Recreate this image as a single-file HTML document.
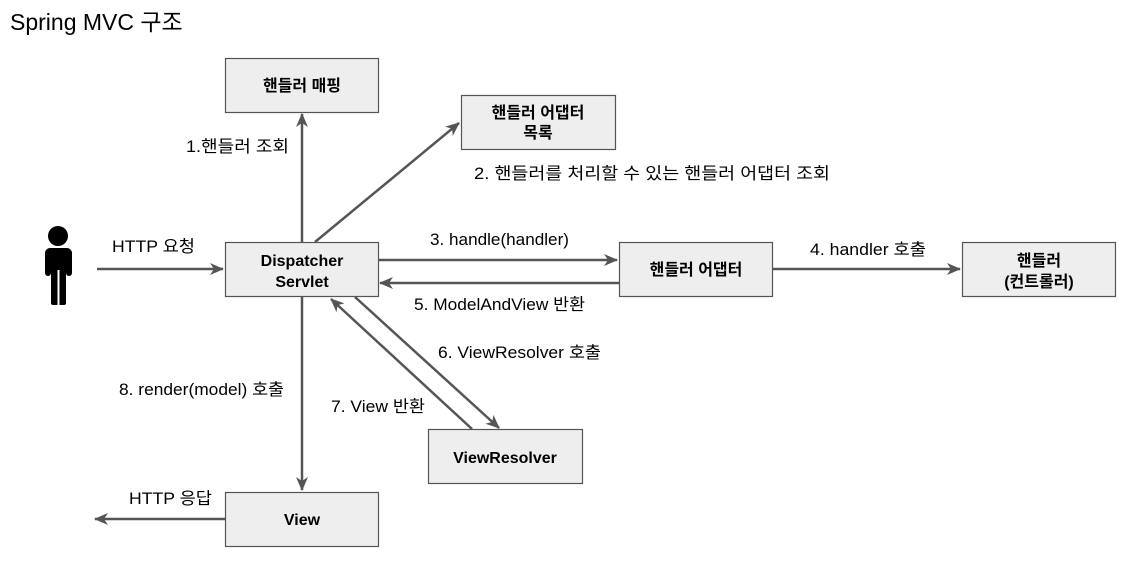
<!DOCTYPE html>
<html><head><meta charset="utf-8"><style>
body{margin:0;background:#fff;}
svg text{font-family:"Liberation Sans","Noto Sans CJK KR",sans-serif;}
</style></head><body>
<svg width="1127" height="560" viewBox="0 0 1127 560" xmlns="http://www.w3.org/2000/svg">
<defs><marker id="a" viewBox="0 0 14 12" refX="13" refY="6" markerWidth="14" markerHeight="12" markerUnits="userSpaceOnUse" orient="auto"><path d="M0,0 L14,6 L0,12 L4,6 Z" fill="#555"/></marker></defs>
<text x="10" y="30" font-size="23" fill="#000">Spring MVC 구조</text>
<g stroke="#555" stroke-width="2.5" fill="none" marker-end="url(#a)">
<line x1="302" y1="242" x2="302" y2="114"/>
<line x1="315" y1="242" x2="459" y2="123"/>
<line x1="97" y1="269" x2="223" y2="269"/>
<line x1="378" y1="260" x2="617" y2="260"/>
<line x1="619" y1="283" x2="380" y2="283"/>
<line x1="355" y1="297" x2="499" y2="428"/>
<line x1="472" y1="429" x2="331" y2="299"/>
<line x1="302" y1="296" x2="302" y2="490"/>
<line x1="225" y1="519" x2="95" y2="519"/>
<line x1="772" y1="269" x2="960" y2="269"/>
</g>
<g fill="#eeeeee" stroke="#555" stroke-width="1.2">
<rect x="225.5" y="58.5" width="153" height="54"/>
<rect x="461.5" y="95.5" width="154" height="54"/>
<rect x="225.5" y="242.5" width="153" height="54"/>
<rect x="619.5" y="242.5" width="153" height="54"/>
<rect x="962.5" y="242.5" width="153" height="54"/>
<rect x="428.5" y="429.5" width="154" height="54"/>
<rect x="225.5" y="492.5" width="153" height="54"/>
</g>
<g font-size="16" font-weight="bold" text-anchor="middle" fill="#000">
<text x="302" y="91">핸들러 매핑</text>
<text x="538" y="118">핸들러 어댑터</text><text x="538" y="138">목록</text>
<text x="302" y="266">Dispatcher</text><text x="302" y="287">Servlet</text>
<text x="696" y="275">핸들러 어댑터</text>
<text x="1039" y="266">핸들러</text><text x="1039" y="287">(컨트롤러)</text>
<text x="505" y="463">ViewResolver</text>
<text x="302" y="525">View</text>
</g>
<g font-size="16.5" fill="#000">
<text x="186" y="152" textLength="103" lengthAdjust="spacingAndGlyphs">1.핸들러 조회</text>
<text x="474" y="179" textLength="356" lengthAdjust="spacingAndGlyphs">2. 핸들러를 처리할 수 있는 핸들러 어댑터 조회</text>
<text x="112" y="252" textLength="83" lengthAdjust="spacingAndGlyphs">HTTP 요청</text>
<text x="430" y="245" textLength="139" lengthAdjust="spacingAndGlyphs">3. handle(handler)</text>
<text x="810" y="255" textLength="116" lengthAdjust="spacingAndGlyphs">4. handler 호출</text>
<text x="414" y="310" textLength="171" lengthAdjust="spacingAndGlyphs">5. ModelAndView 반환</text>
<text x="438" y="358" textLength="163" lengthAdjust="spacingAndGlyphs">6. ViewResolver 호출</text>
<text x="119" y="395" textLength="165" lengthAdjust="spacingAndGlyphs">8. render(model) 호출</text>
<text x="331" y="412" textLength="94" lengthAdjust="spacingAndGlyphs">7. View 반환</text>
<text x="129" y="504" textLength="83" lengthAdjust="spacingAndGlyphs">HTTP 응답</text>
</g>
<g fill="#000">
<circle cx="58" cy="236" r="10"/>
<rect x="45" y="248" width="27" height="24" rx="5"/>
<rect x="51" y="260" width="15" height="45" rx="2"/>
<rect x="45" y="250" width="6" height="26" rx="3"/>
<rect x="66" y="250" width="6" height="26" rx="3"/>
<rect x="57.5" y="270" width="2" height="35" fill="#fff"/>
</g>
</svg>
</body></html>
